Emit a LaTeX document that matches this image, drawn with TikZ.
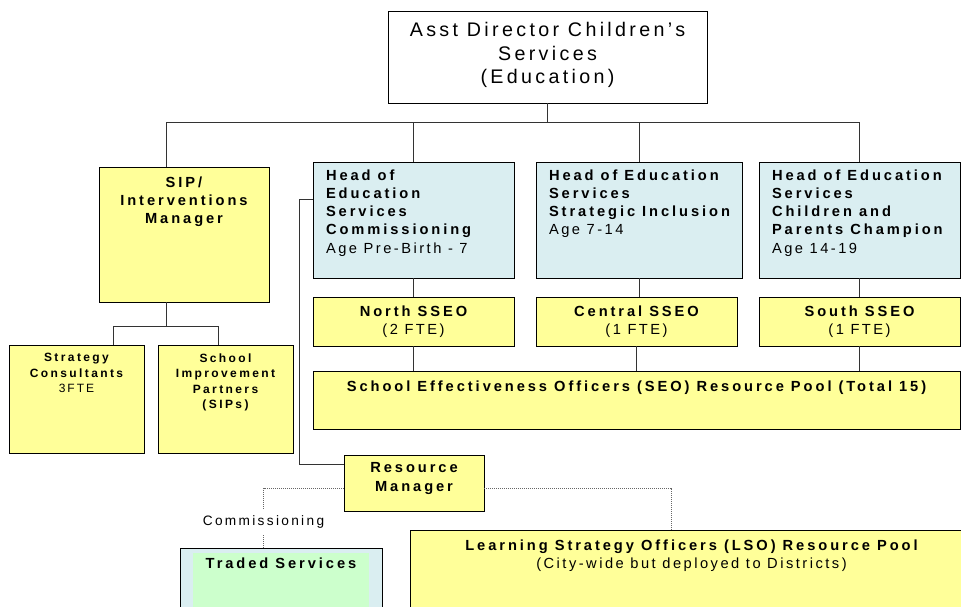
\documentclass[tikz,border=0pt]{standalone}
\usepackage{fontspec}
\setmainfont{Liberation Sans}[LetterSpace=17, BoldFeatures={LetterSpace=20}]
\usetikzlibrary{shadows}

\newlength\px \setlength\px{0.75pt}
\definecolor{paleyellow}{HTML}{FFFF99}
\definecolor{paleblue}{RGB}{218,238,241}
\definecolor{palegreen}{HTML}{CCFFCC}

% box text: width, height, top gap (all in px), then the lines
\newcommand\cbox[4]{\parbox[c][#2\px][t]{#1\px}{\vspace*{#3\px}\centering #4\par}}
\newcommand\lbox[4]{\parbox[c][#2\px][t]{#1\px}{\vspace*{#3\px}\raggedright\leftskip=13\px #4\par}}

\tikzset{
  box/.style={draw=black, line width=0.6pt, inner sep=0pt,
    drop shadow={shadow xshift=0.8pt, shadow yshift=-0.8pt, fill=black!55, opacity=1}},
  plainbox/.style={box, fill=white},
  yellowbox/.style={box, fill=paleyellow},
  bluebox/.style={box, fill=paleblue},
  topfont/.style={font=\fontsize{14.75}{17.6}\selectfont},
  midfont/.style={font=\fontsize{11}{13.7}\selectfont},
  smallfont/.style={font=\fontsize{9}{11.6}\selectfont},
  link/.style={draw=black!80, line width=0.6pt},
  dotlink/.style={draw=black!60, line width=0.5pt, densely dotted},
}

\begin{document}
\begin{tikzpicture}[x=0.75pt,y=-0.75pt]
  \useasboundingbox (0,0) rectangle (961,607);
  \clip (0,0) rectangle (961,607);

  % director
  \node[plainbox, topfont] (adcs) at (547.5,57)
    {\cbox{319}{92}{11.5}{Asst Director Children's\\ Services\\ (Education)}};

  % SIP branch
  \node[yellowbox, midfont] (sip) at (184,234.5)
    {\cbox{170}{135}{9.5}{\bfseries SIP/\\ Interventions\\ Manager}};
  \node[yellowbox, smallfont] (sc) at (76.5,399)
    {\cbox{135}{108}{8.5}{{\bfseries Strategy\\ Consultants}\\ 3FTE}};
  \node[yellowbox, smallfont] (sipp) at (225.5,399)
    {\cbox{135}{108}{8.5}{\bfseries School\\ Improvement\\ Partners\\ (SIPs)}};

  % heads of education services
  \node[bluebox, midfont] (head1) at (413.5,220)
    {\lbox{201}{116}{7.5}{{\bfseries Head of\\ Education\\ Services\\ Commissioning}\\ Age Pre-Birth - 7}};
  \node[bluebox, midfont] (head2) at (639,220)
    {\lbox{206}{116}{7.5}{{\bfseries Head of Education\\ Services\\ Strategic Inclusion}\\ Age 7-14}};
  \node[bluebox, midfont] (head3) at (859.5,220)
    {\lbox{201}{116}{7.5}{{\bfseries Head of Education\\ Services\\ Children and\\ Parents Champion}\\ Age 14-19}};

  % SSEOs and the SEO pool
  \node[yellowbox, midfont] (sseo1) at (413.5,321.5)
    {\cbox{201}{49}{8.5}{{\bfseries North SSEO}\\ (2 FTE)}};
  \node[yellowbox, midfont] (sseo2) at (636.5,321.5)
    {\cbox{201}{49}{8.5}{{\bfseries Central SSEO}\\ (1 FTE)}};
  \node[yellowbox, midfont] (sseo3) at (859.5,321.5)
    {\cbox{201}{49}{8.5}{{\bfseries South SSEO}\\ (1 FTE)}};
  \node[yellowbox, midfont] (pool) at (636.5,400)
    {\cbox{647}{58}{9.5}{\bfseries School Effectiveness Officers (SEO) Resource Pool (Total 15)}};

  % resource manager and what hangs off it
  \node[yellowbox, midfont] (rm) at (414,483)
    {\cbox{140}{56}{7.8}{\bfseries Resource\\ Manager}};
  \node[bluebox, minimum width=151.5pt, minimum height=60pt] (traded) at (281,588) {};
  \node[fill=palegreen, inner sep=0pt, midfont] (tradedin) at (281,588)
    {\cbox{176}{70}{4.8}{\bfseries Traded Services}};
  \node[yellowbox, midfont] (lso) at (691.5,580)
    {\cbox{563}{100}{9.5}{{\bfseries Learning Strategy Officers (LSO) Resource Pool}\\ (City-wide but deployed to Districts)}};
  \node[font=\fontsize{10.25}{12}\selectfont, inner sep=5pt] (comm) at (263.5,522) {Commissioning};

  % solid lines
  \coordinate (busL) at (166,122);
  \coordinate (busR) at (859.5,122);
  \draw[link] (adcs.south) -- (adcs.south |- busL);
  \draw[link] (busL) -- (busR);
  \draw[link] (busL) -- (busL |- sip.north);
  \foreach \h in {head1,head2,head3}
    \draw[link] (\h.north |- busL) -- (\h.north);

  \coordinate (subbus) at (166,326);
  \coordinate (scin) at (113,345);
  \coordinate (sippin) at (218,345);
  \draw[link] (sip.south -| busL) -- (subbus);
  \draw[link] (scin) |- (sippin |- subbus) -- (sippin);

  \foreach \i in {1,2,3} {
    \draw[link] (head\i.south) -- (head\i.south |- sseo\i.north);
    \draw[link] (sseo\i.south) -- (sseo\i.south |- pool.north);
  }

  \coordinate (bend) at (299,199);
  \coordinate (rmin) at (344,464);
  \draw[link] (bend -| head1.west) -- (bend) |- (rmin);

  % dotted lines
  \coordinate (dl) at (0,488);
  \coordinate (lsoin) at (671,530);
  \draw[dotlink] (rm.west |- dl) -| (comm.north);
  \draw[dotlink] (comm.south) -- (comm.south |- traded.north);
  \draw[dotlink] (rm.east |- dl) -| (lsoin);
\end{tikzpicture}
\end{document}
